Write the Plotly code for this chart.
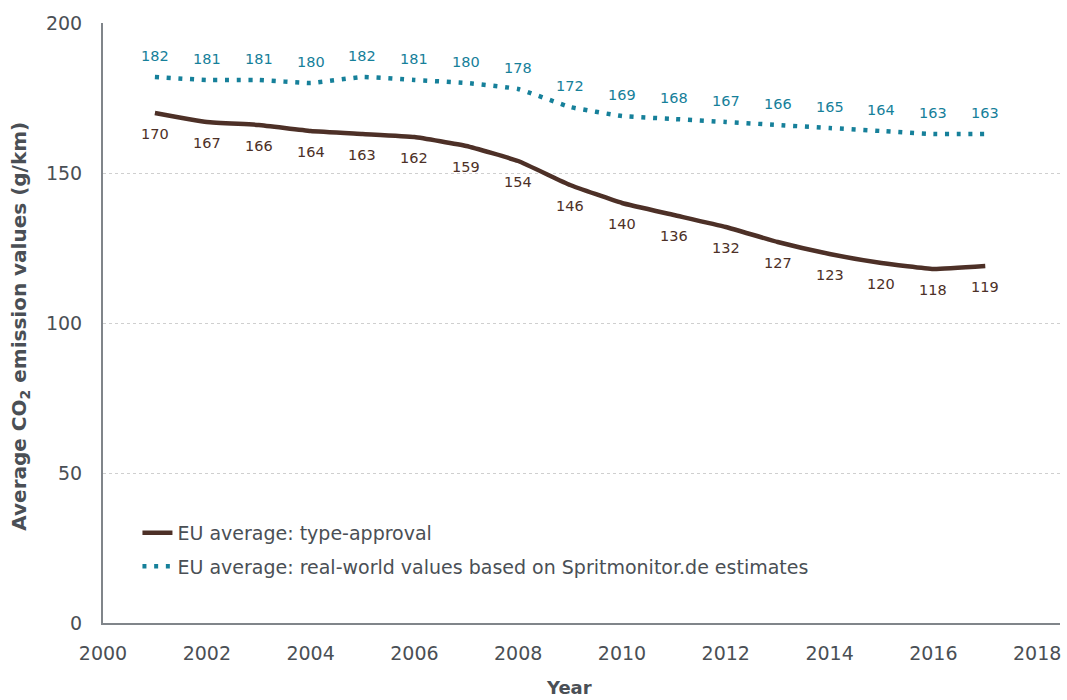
import plotly.graph_objects as go

years = list(range(2001, 2018))
type_approval = [170, 167, 166, 164, 163, 162, 159, 154, 146, 140, 136, 132, 127, 123, 120, 118, 119]
real_world = [182, 181, 181, 180, 182, 181, 180, 178, 172, 169, 168, 167, 166, 165, 164, 163, 163]
name_ta = "EU average: type-approval"
name_rw = "EU average: real-world values based on Spritmonitor.de estimates"
x_ticks = [2000, 2002, 2004, 2006, 2008, 2010, 2012, 2014, 2016, 2018]
y_ticks = [0, 50, 100, 150, 200]
x_title = "<b>Year</b>"
y_title = "<b>Average CO<sub>2</sub> emission values (g/km)</b>"

BROWN = "#4d3027"
TEAL = "#16809a"
TXT = "#4a4f55"
FONT = "DejaVu Sans"

fig = go.Figure()
fig.add_trace(go.Scatter(x=years, y=type_approval, name=name_ta, mode="lines", legendgroup="a",
                         line=dict(color=BROWN, width=4.5, shape="spline", smoothing=0.35)))
fig.add_trace(go.Scatter(x=years, y=real_world, name=name_rw, mode="lines", legendgroup="b",
                         line=dict(color=TEAL, width=4.5, dash="4px,7.7px", shape="spline", smoothing=0.35)))

ann = []
for x, v in zip(years, type_approval):
    ann.append(dict(x=x, y=v, text=str(v), showarrow=False, yshift=-21,
                    font=dict(family=FONT, size=14.5, color=BROWN)))
for x, v in zip(years, real_world):
    ann.append(dict(x=x, y=v, text=str(v), showarrow=False, yshift=21,
                    font=dict(family=FONT, size=14.5, color=TEAL)))
ann.append(dict(xref="paper", yref="paper", x=0.487, y=-0.108, xanchor="center", yanchor="middle",
                text=x_title, showarrow=False, font=dict(family=FONT, size=18, color=TXT)))
ann.append(dict(xref="paper", yref="paper", x=-0.087, y=0.495, xanchor="center", yanchor="middle",
                text=y_title, showarrow=False, textangle=-90,
                font=dict(family=FONT, size=20, color=TXT)))

fig.update_layout(
    width=1067, height=700,
    margin=dict(l=103, r=7, t=23, b=77),
    paper_bgcolor="white", plot_bgcolor="white",
    font=dict(family=FONT, color=TXT),
    annotations=ann,
    showlegend=True,
    legend=dict(x=0.036, y=0.182, xanchor="left", yanchor="top", traceorder="grouped",
                tracegroupgap=6, bgcolor="rgba(0,0,0,0)",
                font=dict(family=FONT, size=19, color=TXT), itemwidth=30),
    xaxis=dict(range=[2000, 2018.44], tickvals=x_ticks, ticktext=[str(t) for t in x_ticks],
               showgrid=False, zeroline=False, showline=True, linecolor="#80858a", linewidth=2,
               ticks="", ticklabelstandoff=12, ticklabeloverflow="allow", automargin=False,
               tickfont=dict(family=FONT, size=19, color=TXT)),
    yaxis=dict(range=[0, 200], tickvals=y_ticks, showgrid=True, gridcolor="#cfcfcf", griddash="dot",
               gridwidth=1, zeroline=False, showline=True, linecolor="#80858a", linewidth=2,
               ticks="", ticklabelstandoff=15, automargin=False,
               tickfont=dict(family=FONT, size=19, color=TXT)),
)

fig.write_html("out.html", config={"displayModeBar": False},
               post_script="document.body.style.margin='0';document.body.style.overflow='hidden';")
